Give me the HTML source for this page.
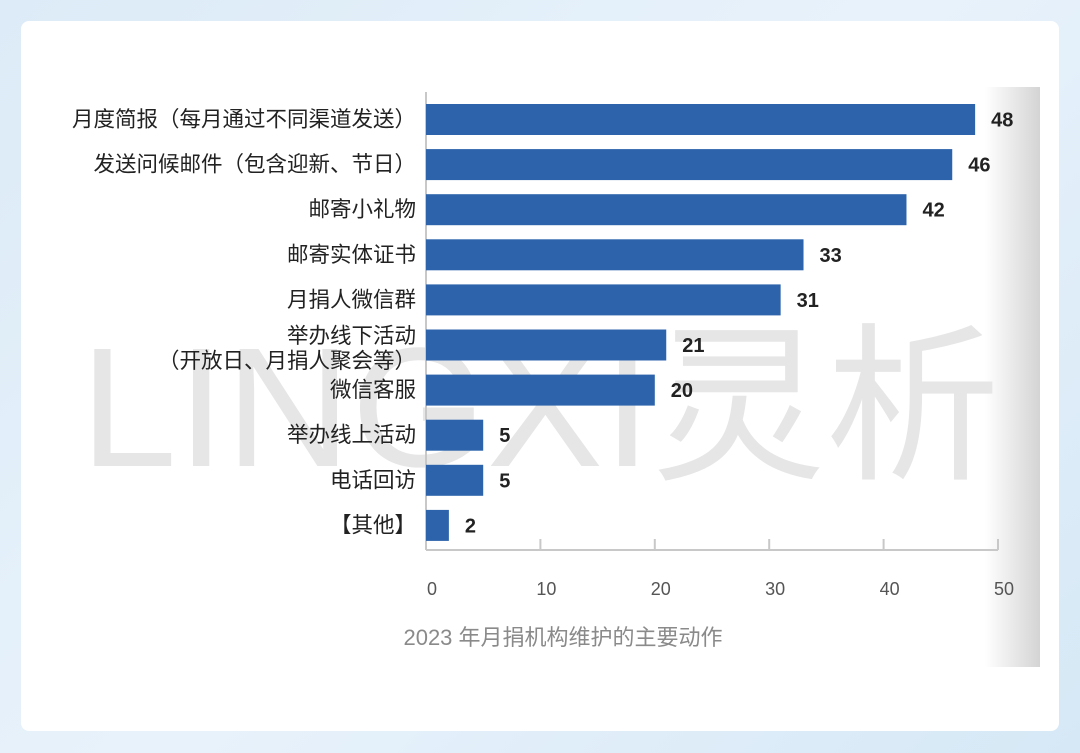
<!DOCTYPE html>
<html><head><meta charset="utf-8"><style>
html,body{margin:0;padding:0;width:1080px;height:753px;overflow:hidden;}
body{background:linear-gradient(135deg,#dcebf7,#e8f2fb 50%,#d6e8f6);font-family:"Liberation Sans","Noto Sans CJK SC",sans-serif;}
#card{position:absolute;left:21px;top:21px;width:1038px;height:710px;background:#fff;border-radius:8px;}
</style></head><body>
<div id="card"></div>
<svg id="chart" width="1080" height="753" style="position:absolute;left:0;top:0">
<defs><linearGradient id="sh" x1="0" x2="1"><stop offset="0" stop-color="#fff"/><stop offset="1" stop-color="#d4d4d4"/></linearGradient></defs>
<rect x="985" y="87" width="55" height="580" fill="url(#sh)"/>
<text x="80" y="466" font-size="170" textLength="920" lengthAdjust="spacingAndGlyphs" fill="#e6e6e6" font-family="Liberation Sans,Noto Sans CJK SC,sans-serif">LINGXI灵析</text>
<g id="g"></g>
<text x="563" y="645" font-size="22" fill="#8a8a8a" text-anchor="middle">2023 年月捐机构维护的主要动作</text>
</svg>
<script>
const categories=["月度简报（每月通过不同渠道发送）","发送问候邮件（包含迎新、节日）","邮寄小礼物","邮寄实体证书","月捐人微信群","举办线下活动|（开放日、月捐人聚会等）","微信客服","举办线上活动","电话回访","【其他】"];
const values=[48,46,42,33,31,21,20,5,5,2];
const ticks=[0,10,20,30,40,50];
const x0=426,x1=998,maxV=50;
const xs=v=>x0+(x1-x0)*v/maxV;
const yc=i=>119.5+i*45.1;
const g=document.getElementById('g');
const NS='http://www.w3.org/2000/svg';
function mk(t,a){const e=document.createElementNS(NS,t);for(const k in a)e.setAttribute(k,a[k]);g.appendChild(e);return e;}
let ax=mk('line',{x1:x0,y1:92,x2:x0,y2:550,stroke:'#c8c8c8','stroke-width':2});

let bx=mk('line',{x1:x0,y1:550,x2:x1,y2:550,stroke:'#c8c8c8','stroke-width':2});

ticks.forEach(t=>{
 const tk=mk('line',{x1:xs(t),y1:539,x2:xs(t),y2:550,stroke:'#c8c8c8','stroke-width':2});
 
 const tl=mk('text',{x:xs(t)+6,y:595,'font-size':18,fill:'#555','text-anchor':'middle'});
 tl.textContent=t;
 
});
values.forEach((v,i)=>{
 const y=yc(i);
 const r=mk('rect',{x:x0,y:y-15.5,width:xs(v)-x0,height:31,fill:'#2c63ab'});
 
 const vl=mk('text',{x:xs(v)+16,y:y+7,'font-size':20,fill:'#222','font-weight':'bold'});
 vl.textContent=v;
 
 const parts=categories[i].split('|');
 parts.forEach((p,j)=>{
  const cy=parts.length>1?y-9+j*25:y;
  const cl=mk('text',{x:416,y:cy+7,'font-size':21.5,fill:'#222','text-anchor':'end'});
  cl.textContent=p;
  
 });
});
</script>
</body></html>
